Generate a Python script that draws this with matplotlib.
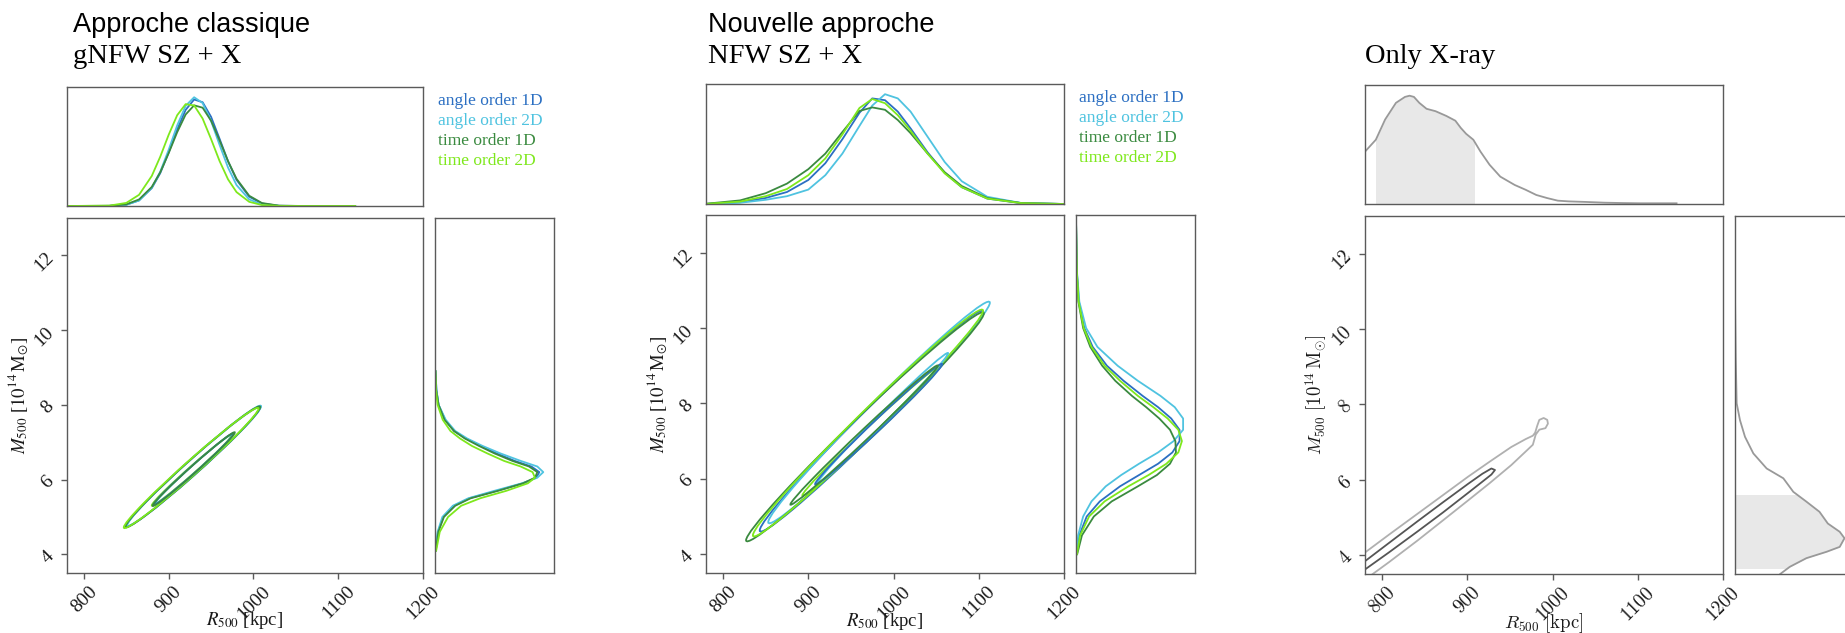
import numpy as np
import matplotlib
matplotlib.use("Agg")
import matplotlib.pyplot as plt
from matplotlib.patches import Ellipse, Rectangle

# ---- series (panels 1 and 2)
names = ["angle order 1D", "angle order 2D", "time order 1D", "time order 2D"]
colors = ["#2b6fc2", "#4fc3e0", "#3a8a3f", "#7ee81c"]

R_LIM = (780, 1200)
M_LIM = (3.5, 13.0)
R_TICKS = [800, 900, 1000, 1100, 1200]
M_TICKS = [4, 6, 8, 10, 12]

# ---- panel 1 : gNFW SZ + X
p1_top_r = [780, 830, 850, 865, 880, 890, 900, 910, 920, 930, 940, 950, 960, 970, 980, 995, 1010, 1030, 1060, 1120]
p1_top_a1 = [0, 0.001, 0.011, 0.047, 0.150, 0.276, 0.45, 0.643, 0.808, 0.895, 0.872, 0.749, 0.565, 0.376, 0.22, 0.078, 0.021, 0.002, 0, 0]
p1_top_a2 = [0, 0.001, 0.010, 0.046, 0.153, 0.288, 0.473, 0.677, 0.842, 0.914, 0.865, 0.714, 0.514, 0.323, 0.176, 0.055, 0.013, 0.001, 0, 0]
p1_top_t1 = [0, 0.002, 0.014, 0.055, 0.160, 0.283, 0.445, 0.62, 0.769, 0.846, 0.826, 0.716, 0.551, 0.377, 0.229, 0.086, 0.025, 0.003, 0, 0]
p1_top_t2 = [0, 0.003, 0.026, 0.094, 0.252, 0.414, 0.599, 0.763, 0.856, 0.845, 0.735, 0.562, 0.378, 0.224, 0.117, 0.035, 0.008, 0.001, 0, 0]

p1_side_m = [4.1, 4.6, 5.0, 5.3, 5.5, 5.7, 5.9, 6.05, 6.2, 6.35, 6.5, 6.7, 6.9, 7.1, 7.3, 7.6, 8.0, 8.4, 8.9]
p1_side_a1 = [0.006, 0.025, 0.07, 0.16, 0.29, 0.52, 0.74, 0.85, 0.877, 0.81, 0.67, 0.52, 0.38, 0.26, 0.16, 0.085, 0.03, 0.012, 0.004]
p1_side_a2 = [0.005, 0.022, 0.062, 0.15, 0.28, 0.50, 0.73, 0.86, 0.91, 0.86, 0.72, 0.55, 0.40, 0.27, 0.17, 0.09, 0.03, 0.012, 0.004]
p1_side_t1 = [0.007, 0.028, 0.075, 0.17, 0.30, 0.53, 0.74, 0.84, 0.86, 0.79, 0.65, 0.50, 0.37, 0.25, 0.16, 0.08, 0.03, 0.01, 0.004]
p1_side_t2 = [0.01, 0.04, 0.11, 0.22, 0.38, 0.60, 0.78, 0.84, 0.82, 0.72, 0.58, 0.44, 0.31, 0.21, 0.13, 0.065, 0.022, 0.008, 0.003]

# contour tips (lower-left / upper-right) and vertical thickness
p1_out_lo_r = [850, 851, 849, 847]
p1_out_lo_m = [4.76, 4.78, 4.74, 4.72]
p1_out_hi_r = [1008, 1009, 1008, 1006]
p1_out_hi_m = [7.93, 7.96, 7.94, 7.90]
p1_in_lo_r = [882, 884, 881, 880]
p1_in_lo_m = [5.33, 5.36, 5.30, 5.31]
p1_in_hi_r = [977, 976, 978, 975]
p1_in_hi_m = [7.24, 7.22, 7.26, 7.20]
p1_thick = [0.50, 0.25]

# ---- panel 2 : NFW SZ + X
p2_top_r = [780, 820, 850, 875, 900, 920, 940, 960, 975, 990, 1005, 1020, 1040, 1060, 1080, 1110, 1150, 1200]
p2_top_a1 = [0.001, 0.015, 0.05, 0.10, 0.20, 0.34, 0.54, 0.76, 0.88, 0.865, 0.77, 0.63, 0.43, 0.26, 0.14, 0.045, 0.007, 0.0]
p2_top_a2 = [0.0, 0.01, 0.035, 0.065, 0.12, 0.24, 0.42, 0.65, 0.82, 0.915, 0.88, 0.77, 0.56, 0.35, 0.19, 0.06, 0.008, 0.0]
p2_top_t1 = [0.002, 0.03, 0.09, 0.17, 0.29, 0.42, 0.60, 0.775, 0.805, 0.785, 0.70, 0.59, 0.42, 0.265, 0.15, 0.05, 0.008, 0.0]
p2_top_t2 = [0.001, 0.02, 0.065, 0.125, 0.24, 0.38, 0.58, 0.80, 0.875, 0.84, 0.74, 0.61, 0.42, 0.255, 0.14, 0.045, 0.007, 0.0]

p2_side_m = [4.0, 4.5, 5.0, 5.4, 5.8, 6.1, 6.4, 6.7, 7.0, 7.3, 7.6, 7.9, 8.2, 8.6, 9.0, 9.5, 10.0, 10.7, 11.5, 12.9]
p2_side_a1 = [0.006, 0.028, 0.09, 0.20, 0.37, 0.53, 0.69, 0.81, 0.87, 0.87, 0.80, 0.69, 0.56, 0.40, 0.26, 0.14, 0.07, 0.024, 0.007, 0.0]
p2_side_a2 = [0.004, 0.018, 0.06, 0.13, 0.25, 0.38, 0.53, 0.69, 0.82, 0.90, 0.90, 0.83, 0.71, 0.52, 0.35, 0.18, 0.085, 0.028, 0.008, 0.0]
p2_side_t1 = [0.01, 0.05, 0.15, 0.30, 0.52, 0.68, 0.79, 0.84, 0.835, 0.79, 0.70, 0.59, 0.47, 0.33, 0.22, 0.12, 0.06, 0.02, 0.006, 0.0]
p2_side_t2 = [0.008, 0.035, 0.11, 0.24, 0.44, 0.61, 0.76, 0.86, 0.89, 0.86, 0.77, 0.65, 0.52, 0.37, 0.24, 0.13, 0.065, 0.022, 0.007, 0.0]

p2_out_lo_r = [843, 853, 827, 835]
p2_out_lo_m = [4.63, 4.85, 4.37, 4.50]
p2_out_hi_r = [1105, 1113, 1106, 1105]
p2_out_hi_m = [10.43, 10.67, 10.39, 10.46]
p2_in_lo_r = [908, 911, 879, 893]
p2_in_lo_m = [5.86, 5.89, 5.32, 5.56]
p2_in_hi_r = [1057, 1064, 1052, 1054]
p2_in_hi_m = [9.04, 9.33, 9.00, 8.97]
p2_thick = [0.85, 0.36]

# ---- panel 3 : only X-ray
p3_top_r = [780, 792.7, 803.6, 816.3, 826.9, 832.3, 837.4, 843.7, 852.2, 862.7, 875.4, 886.0, 892.3, 898.6, 907.1,
            915.5, 926.1, 938.7, 955.6, 968.3, 980.9, 993.6, 1006.2, 1018.9, 1040.0, 1061.1, 1082.2, 1103.3, 1145.5]
p3_top_d = [0.44, 0.54, 0.71, 0.85, 0.90, 0.91, 0.90, 0.85, 0.80, 0.78, 0.74, 0.70, 0.64, 0.59, 0.54,
            0.44, 0.33, 0.23, 0.16, 0.12, 0.076, 0.05, 0.028, 0.022, 0.017, 0.011, 0.008, 0.006, 0.006]
p3_top_shade = (792.7, 908.3)

p3_side_m = [3.50, 3.69, 3.92, 4.09, 4.22, 4.45, 4.62, 4.84, 5.15, 5.42, 5.68, 6.04, 6.30, 6.70, 7.14, 7.58, 8.03, 9.26, 10.90]
p3_side_d = [0.38, 0.46, 0.60, 0.77, 0.88, 0.92, 0.88, 0.78, 0.71, 0.60, 0.49, 0.406, 0.266, 0.154, 0.084, 0.042, 0.014, 0.006, 0.0]
p3_side_shade = (3.66, 5.60)

# outer contour: lower edge -> pinched tip loop -> upper edge
p3_outer_r = [772.0, 780.0, 807.9, 841.7, 871.3, 900.8, 926.2, 951.6, 968.5, 976.9, 980.3,
              984.5, 991.7, 994.6, 993.8, 989.6, 984.5, 982.0, 979.6,
              976.9, 968.5, 951.6, 926.2, 900.8, 871.3, 841.7, 807.9, 780.0, 772.0]
p3_outer_m = [3.28, 3.35, 3.81, 4.39, 4.92, 5.45, 5.91, 6.39, 6.75, 6.93, 7.20,
              7.33, 7.37, 7.49, 7.59, 7.64, 7.59, 7.43, 7.25,
              7.17, 7.08, 6.87, 6.48, 6.08, 5.59, 5.10, 4.54, 4.07, 4.00]
p3_inner_r = [772.0, 780.0, 807.9, 841.7, 871.3, 900.8, 917.7, 928.3, 932.5,
              928.3, 917.7, 900.8, 871.3, 841.7, 807.9, 780.0, 772.0]
p3_inner_m = [3.76, 3.84, 4.32, 4.90, 5.40, 5.89, 6.16, 6.30, 6.26,
              6.14, 5.95, 5.65, 5.13, 4.63, 4.07, 3.62, 3.54]

SPINE = "#5a5a5a"
TXT = "#1a1a1a"

fig = plt.figure(figsize=(18.45, 6.33), dpi=100)


def make_panel(r_top, r_main, r_side, fam, mfam, xlab, ylab):
    ax_t = fig.add_axes(r_top)
    ax = fig.add_axes(r_main)
    ax_s = fig.add_axes(r_side)
    for a in (ax_t, ax, ax_s):
        for sp in a.spines.values():
            sp.set_color(SPINE)
            sp.set_linewidth(1.0)
    ax_t.set_xlim(*R_LIM)
    ax_t.set_ylim(0, 1)
    ax_t.set_xticks([])
    ax_t.set_yticks([])
    ax_s.set_xlim(0, 1)
    ax_s.set_ylim(*M_LIM)
    ax_s.set_xticks([])
    ax_s.set_yticks([])
    ax.set_xlim(*R_LIM)
    ax.set_ylim(*M_LIM)
    ax.set_xticks(R_TICKS, [str(v) for v in R_TICKS], rotation=45, fontsize=14, fontfamily=fam, color=TXT)
    ax.set_yticks(M_TICKS, [str(v) for v in M_TICKS], rotation=45, fontsize=14, fontfamily=fam, color=TXT)
    ax.tick_params(direction="out", length=4, width=1, color=SPINE, pad=3)
    ax.set_xlabel(xlab, fontsize=13.5, fontfamily=fam, math_fontfamily=mfam, color=TXT)
    ax.set_ylabel(ylab, fontsize=13.5, fontfamily=fam, math_fontfamily=mfam, color=TXT)
    ax.xaxis.set_label_coords(0.5, -0.105)
    ax.yaxis.set_label_coords(-0.10, 0.5)
    return ax_t, ax, ax_s


def ellipse(ax, r0, m0, r1, m1, thick, col):
    dr, dm = r1 - r0, m1 - m0
    e = Ellipse(((r0 + r1) / 2, (m0 + m1) / 2), np.hypot(dr, dm), thick,
                angle=np.degrees(np.arctan2(dm, dr)), fill=False, ec=col, lw=1.3)
    ax.add_patch(e)


SERIF = "Liberation Serif"
xlab = r"$R_{500}$ [kpc]"
ylab = r"$M_{500}$ [$10^{14}\,\mathrm{M}_{\odot}$]"
outer_order = [0, 1, 2, 3]   # light green on top for the outer level
inner_order = [3, 1, 0, 2]   # dark green on top for the inner level

# ---- panel 1
t1, m1, s1 = make_panel([0.03631, 0.67457, 0.19295, 0.18799], [0.03631, 0.09479, 0.19295, 0.56082],
                        [0.23577, 0.09479, 0.0645, 0.56082], SERIF, "stix", xlab, ylab)
tops = [p1_top_a1, p1_top_a2, p1_top_t1, p1_top_t2]
sides = [p1_side_a1, p1_side_a2, p1_side_t1, p1_side_t2]
for i in range(4):
    t1.plot(p1_top_r, tops[i], color=colors[i], lw=1.3)
    s1.plot(sides[i], p1_side_m, color=colors[i], lw=1.3)
    fig.text(0.2376, 0.8400 - i * 0.0312, names[i], color=colors[i], fontsize=12.5,
             fontfamily=SERIF, va="center")
for i in outer_order:
    ellipse(m1, p1_out_lo_r[i], p1_out_lo_m[i], p1_out_hi_r[i], p1_out_hi_m[i], p1_thick[0], colors[i])
for i in inner_order:
    ellipse(m1, p1_in_lo_r[i], p1_in_lo_m[i], p1_in_hi_r[i], p1_in_hi_m[i], p1_thick[1], colors[i])
fig.text(0.0396, 0.9494, "Approche classique", fontsize=19.5, fontfamily="Liberation Sans", color="black")
fig.text(0.0396, 0.901, "gNFW SZ + X", fontsize=20.5, fontfamily=SERIF, color="black")

# ---- panel 2
t2, m2, s2 = make_panel([0.38266, 0.67773, 0.19404, 0.18957], [0.38266, 0.09479, 0.19404, 0.56556],
                        [0.58320, 0.09479, 0.0645, 0.56556], SERIF, "stix", xlab, ylab)
tops = [p2_top_a1, p2_top_a2, p2_top_t1, p2_top_t2]
sides = [p2_side_a1, p2_side_a2, p2_side_t1, p2_side_t2]
for i in range(4):
    t2.plot(p2_top_r, tops[i], color=colors[i], lw=1.3)
    s2.plot(sides[i], p2_side_m, color=colors[i], lw=1.3)
    fig.text(0.5850, 0.8446 - i * 0.0312, names[i], color=colors[i], fontsize=12.5,
             fontfamily=SERIF, va="center")
for i in outer_order:
    ellipse(m2, p2_out_lo_r[i], p2_out_lo_m[i], p2_out_hi_r[i], p2_out_hi_m[i], p2_thick[0], colors[i])
for i in inner_order:
    ellipse(m2, p2_in_lo_r[i], p2_in_lo_m[i], p2_in_hi_r[i], p2_in_hi_m[i], p2_thick[1], colors[i])
fig.text(0.3840, 0.9494, "Nouvelle approche", fontsize=19.5, fontfamily="Liberation Sans", color="black")
fig.text(0.3840, 0.901, "NFW SZ + X", fontsize=20.5, fontfamily=SERIF, color="black")

# ---- panel 3 (computer modern style)
xlab3 = r"$R_{500}\ [\mathrm{kpc}]$"
ylab3 = r"$M_{500}\ [10^{14}\,\mathrm{M}_{\odot}]$"
t3, m3, s3 = make_panel([0.73984, 0.67773, 0.19404, 0.18799], [0.73984, 0.09321, 0.19404, 0.56556],
                        [0.94038, 0.09321, 0.0645, 0.56556], "cmr10", "cm", xlab3, ylab3)
t3.plot(p3_top_r, p3_top_d, color="#999999", lw=1.3)
f = t3.fill_between(p3_top_r, 0, p3_top_d, color="#e8e8e8", lw=0, zorder=0)
f.set_clip_path(Rectangle((p3_top_shade[0], 0), p3_top_shade[1] - p3_top_shade[0], 1, transform=t3.transData))
s3.plot(p3_side_d, p3_side_m, color="#999999", lw=1.3)
f = s3.fill_betweenx(p3_side_m, 0, p3_side_d, color="#e8e8e8", lw=0, zorder=0)
f.set_clip_path(Rectangle((0, p3_side_shade[0]), 1, p3_side_shade[1] - p3_side_shade[0], transform=s3.transData))
m3.plot(p3_outer_r, p3_outer_m, color="#b0b0b0", lw=1.3)
m3.plot(p3_inner_r, p3_inner_m, color="#555555", lw=1.3)
fig.text(0.7401, 0.901, "Only X-ray", fontsize=20.5, fontfamily=SERIF, color="black")

fig.savefig("out.png", dpi=100)
